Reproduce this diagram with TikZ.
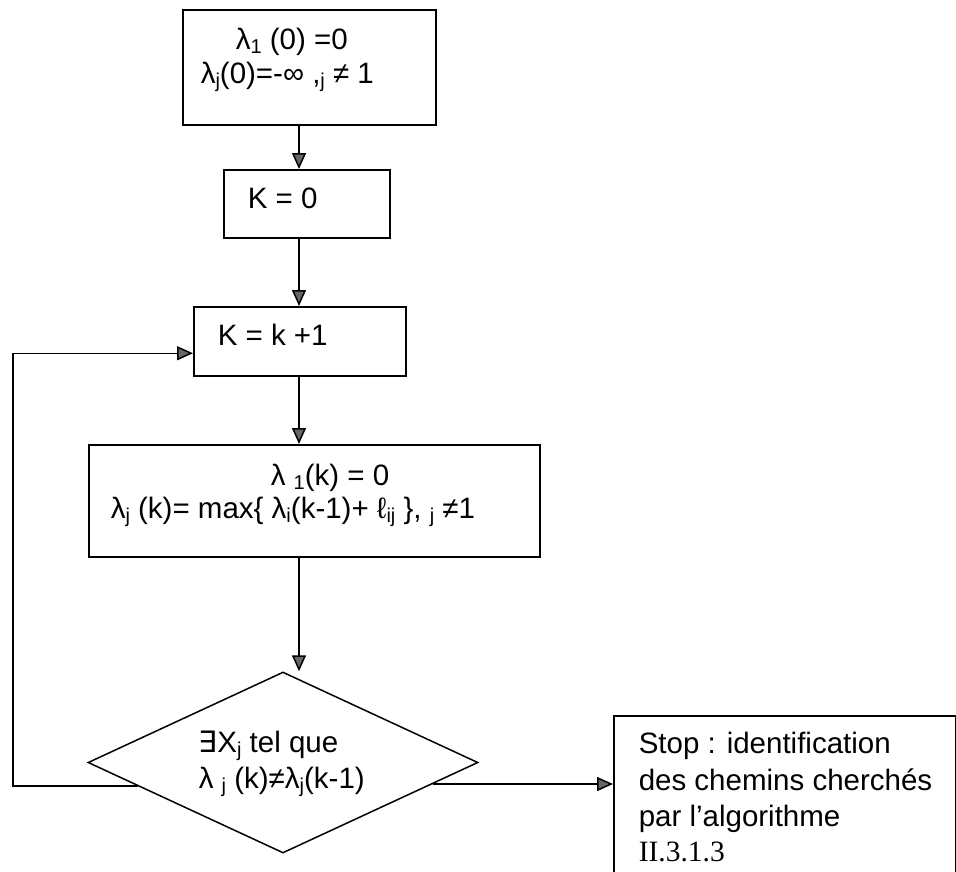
\documentclass[tikz,border=0pt]{standalone}
\usepackage{fontspec}
\setmainfont{Liberation Sans}
\newfontfamily\symfont{DejaVu Sans}
\newfontfamily\serfont{Liberation Serif}
\usetikzlibrary{arrows.meta,shapes.geometric,calc}
% small lowered index
\newcommand\sbs[1]{\raisebox{-0.14em}{\fontsize{20}{20}\selectfont #1}}

\begin{document}
\begin{tikzpicture}[x=1pt,y=-1pt,line width=1.5pt,
  box/.style={draw,rectangle,inner sep=0pt,anchor=north west},
  txt/.style={inner sep=0pt,anchor=base west,font=\fontsize{29.5}{35}\selectfont},
  arr/.style={-{Triangle[length=16pt,width=14pt,fill=black!60]}}]
\clip (0,0) rectangle (956,871);
\fill[white] (0,0) rectangle (956,871);

% boxes
\node[box,minimum width=253,minimum height=115] (b1) at (182,9) {};
\node[box,minimum width=166,minimum height=68] (b2) at (223,169) {};
\node[box,minimum width=212,minimum height=69] (b3) at (193,306) {};
\node[box,minimum width=451,minimum height=112] (b4) at (88,444) {};
\node[draw,diamond,minimum width=390,minimum height=181,inner sep=0pt] (d) at (283,762.5) {};
\node[box,minimum width=342,minimum height=220] (stop) at (613,715) {};

% texts
\node[txt] (t1a) at (235,49) {λ\sbs{1} (0) =0};
\node[txt] (t1b) at (200,83) {λ\sbs{j}(0)=-∞ ,\sbs{j} ≠ 1};
\node[txt] (t2) at (247,208) {K = 0};
\node[txt] (t3) at (217,345) {K = k +1};
\node[txt] (t4a) at (270,485) {λ \sbs{1}(k) = 0};
\node[txt] (t4b) at (110,518) {λ\sbs{j} (k)= max\{ λ\sbs{i}(k-1)+ ℓ\sbs{ij} \}, \sbs{j} ≠1};
\node[txt] (tda) at (198,752) {{\symfont ∃}X\sbs{j} tel que};
\node[txt] (tdb) at (198,788) {λ \sbs{j} (k)≠λ\sbs{j}(k-1)};
\node[txt] (ts1) at (638,753) {Stop : identification};
\node[txt] (ts2) at (638,790) {des chemins cherchés};
\node[txt] (ts3) at (638,826) {par l’algorithme};
\node[txt] (ts4) at (638,861) {\serfont II.3.1.3};

% connectors
\coordinate (col) at (299,0);
\coordinate (dl) at (138,786);
\coordinate (lp) at (13,786);
\coordinate (dr) at (432.5,784);
\draw[arr] (b1.south -| col) -- (b2.north -| col);
\draw[arr] (b2.south -| col) -- (b3.north -| col);
\draw[arr] (b3.south -| col) -- (b4.north -| col);
\draw[arr] (b4.south -| col) -- (col |- d.north);
\draw[arr] (dl) -- (lp) |- ($(b3.west)+(0,12)$);
\draw[arr] (dr) -- (stop.west |- dr);
\end{tikzpicture}
\end{document}
